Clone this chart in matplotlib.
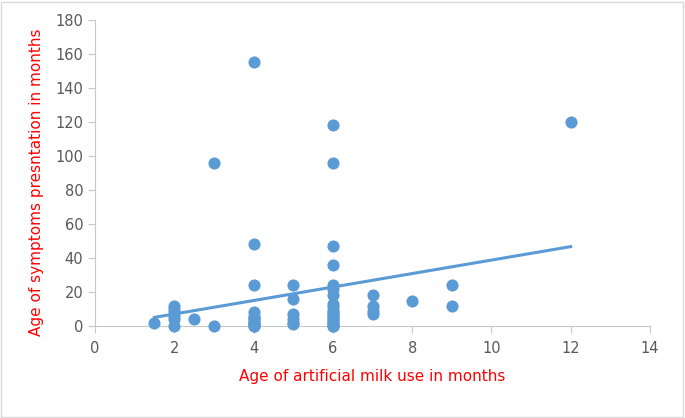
import numpy as np
import matplotlib.pyplot as plt

# age of artificial milk use (months) vs age of symptoms presentation (months)
# (several low points overlap in the columns at 4, 5 and 6 months)
milk_age = [1.5,
            2, 2, 2, 2, 2, 2,
            2.5,
            3, 3,
            4, 4, 4, 4, 4, 4, 4, 4, 4, 4, 4, 4, 4,
            5, 5, 5, 5, 5, 5,
            6, 6, 6, 6, 6, 6, 6, 6, 6, 6, 6, 6, 6, 6, 6, 6, 6, 6, 6, 6,
            7, 7, 7, 7,
            8,
            9, 9,
            12]
symptom_age = [2,
               0, 4, 6, 8, 10, 12,
               4,
               0, 96,
               155, 48, 24, 8, 6, 4, 2, 1, 0, 0, 1, 3, 5,
               24, 16, 7, 1, 2, 4,
               118, 96, 47, 36, 24, 22, 18, 13, 11, 8, 6, 4, 2, 0, 0, 1, 3, 5, 7, 9,
               18, 12, 9, 7,
               15,
               24, 12,
               120]

blue = '#5B9BD5'
grey = '#595959'
red = '#FF0000'

fig = plt.figure(figsize=(6.85, 4.18), dpi=100)
ax = fig.add_axes([95/685, 1-326/418, 555/685, 306/418])

ax.scatter(milk_age, symptom_age, s=76, color=blue, zorder=3, linewidths=0, clip_on=False)

# linear trend line
k, b = np.polyfit(milk_age, symptom_age, 1)
xs = np.array([min(milk_age), max(milk_age)])
ax.plot(xs, k*xs + b, color=blue, lw=2.2, zorder=2)

ax.set_xlim(0, 14)
ax.set_ylim(0, 180)
ax.set_xticks(range(0, 15, 2))
ax.set_yticks(range(0, 181, 20))
for s in ['top', 'right']:
    ax.spines[s].set_visible(False)
for s in ['left', 'bottom']:
    ax.spines[s].set_color('#C8C8C8')
ax.tick_params(colors='#C8C8C8', labelcolor=grey, labelsize=10.5, length=5)
ax.tick_params(axis='x', pad=6)
ax.set_xlabel('Age of artificial milk use in months', color=red, fontsize=11, labelpad=9)
ax.set_ylabel('Age of symptoms presntation in months', color=red, fontsize=11, labelpad=8)
ax.yaxis.label.set_y(0.47)

fig.patches.append(plt.Rectangle((0.002, 0.003), 0.995, 0.993, transform=fig.transFigure,
                                 fill=False, edgecolor='#D9D9D9', lw=1))

fig.savefig('out.png', dpi=100)
